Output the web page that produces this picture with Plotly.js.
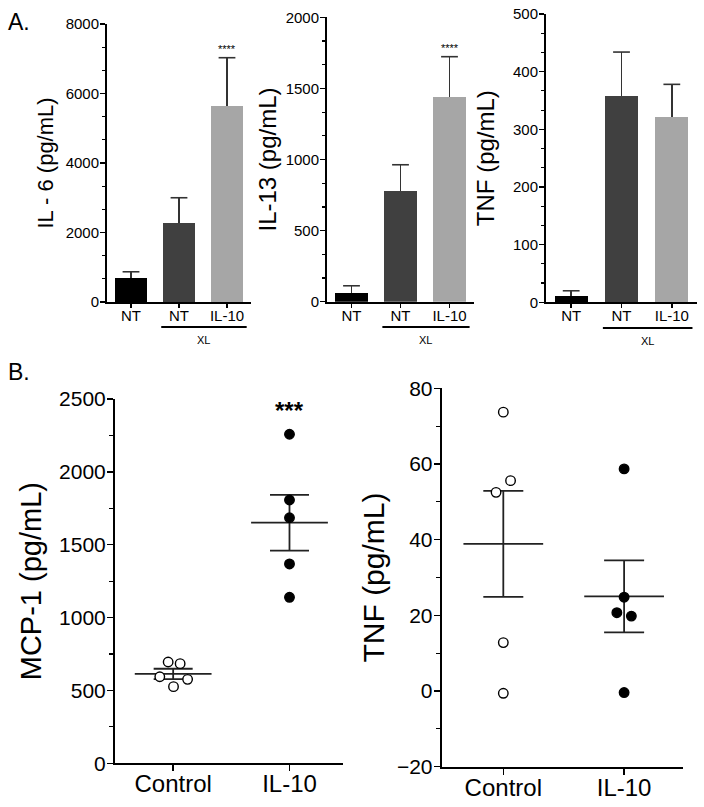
<!DOCTYPE html>
<html>
<head>
<meta charset="utf-8">
<script src="https://cdn.plot.ly/plotly-3.0.1.min.js"></script>
<style>
html,body{margin:0;padding:0;background:#fff;}
#chart{width:704px;height:807px;}
</style>
</head>
<body>
<div id="chart"></div>
<script>
// ---------- Panel A data (bar charts, mean + upper error) ----------
const barTickLabels = ['NT', 'NT', 'IL-10'];
const barColors = ['#000000', '#404040', '#a6a6a6'];
const il6Mean = [680, 2265, 5650];
const il6Err = [190, 735, 1380];
const il13Mean = [59, 780, 1441];
const il13Err = [53, 183, 282];
const tnfAMean = [11, 357, 322];
const tnfAErr = [9, 77, 56];

// ---------- Panel B data (dot plots) ----------
const groupLabels = ['Control', 'IL-10'];
const mcpControl = [695, 684, 594, 576, 526];
const mcpIL10 = [2258, 1807, 1685, 1368, 1139];
const mcpMean = [613, 1651];
const mcpSem = [36, 191];
const tnfControl = [73.7, 55.6, 52.5, 12.8, -0.6];
const tnfIL10 = [58.7, 24.8, 20.7, 19.8, -0.4];
const tnfMean = [38.9, 25.0];
const tnfSem = [14.0, 9.5];

// horizontal scatter offsets of points within a group (layout only)
const mcpControlJitter = [-0.043, 0.06, -0.115, 0.124, 0.003];
const mcpIL10Jitter = [0, 0, 0, 0, 0];
const tnfControlJitter = [0, 0.06, -0.06, 0, 0];
const tnfIL10Jitter = [0, 0, -0.06, 0.06, 0];

const FONT = 'Liberation Sans, Arial, Helvetica, sans-serif';
const catIdx = [0, 1, 2];
const ERRC = '#333333';

function barTrace(means, errs, xa, ya) {
  return {
    type: 'bar', x: catIdx, y: means, xaxis: xa, yaxis: ya,
    width: 0.66,
    marker: {color: barColors, line: {width: 0}},
    error_y: {type: 'data', array: errs, arrayminus: errs.map(() => 0), symmetric: false,
              color: ERRC, thickness: 1.6, width: 0},
    showlegend: false, hoverinfo: 'skip'
  };
}
// cap at the top end of each upward error bar
function capTrace(means, errs, xa, ya) {
  return {
    type: 'scatter', mode: 'markers', x: catIdx, y: means.map((m, i) => m + errs[i]),
    xaxis: xa, yaxis: ya,
    marker: {symbol: 'line-ew', size: 12, line: {color: ERRC, width: 1.6}},
    showlegend: false, hoverinfo: 'skip', cliponaxis: false
  };
}
function dotTrace(vals, base, jit, open, xa, ya) {
  return {
    type: 'scatter', mode: 'markers', x: vals.map((v, i) => base + jit[i]), y: vals,
    xaxis: xa, yaxis: ya,
    marker: {size: 9.5, symbol: 'circle', color: open ? '#ffffff' : '#000000',
             line: {color: '#000000', width: 1.4}},
    showlegend: false, hoverinfo: 'skip', cliponaxis: false
  };
}
function meanTrace(means, sems, xa, ya, cap) {
  return {
    type: 'scatter', mode: 'markers', x: [0, 1], y: means, xaxis: xa, yaxis: ya,
    marker: {size: 1, color: 'rgba(0,0,0,0)'},
    error_x: {type: 'constant', value: 0.33, width: 0, color: '#222222', thickness: 1.8},
    error_y: {type: 'data', array: sems, color: '#222222', thickness: 1.8, width: cap},
    showlegend: false, hoverinfo: 'skip'
  };
}

const data = [
  barTrace(il6Mean, il6Err, 'x', 'y'),
  barTrace(il13Mean, il13Err, 'x2', 'y2'),
  barTrace(tnfAMean, tnfAErr, 'x3', 'y3'),
  capTrace(il6Mean, il6Err, 'x', 'y'),
  capTrace(il13Mean, il13Err, 'x2', 'y2'),
  capTrace(tnfAMean, tnfAErr, 'x3', 'y3'),
  meanTrace(mcpMean, mcpSem, 'x4', 'y4', 19.5),
  dotTrace(mcpControl, 0, mcpControlJitter, true, 'x4', 'y4'),
  dotTrace(mcpIL10, 1, mcpIL10Jitter, false, 'x4', 'y4'),
  meanTrace(tnfMean, tnfSem, 'x5', 'y5', 20),
  dotTrace(tnfControl, 0, tnfControlJitter, true, 'x5', 'y5'),
  dotTrace(tnfIL10, 1, tnfIL10Jitter, false, 'x5', 'y5')
];

const W = 704, H = 807;
const px = v => v / W;
const py = v => 1 - v / H;

function xBar(d0, d1, anchor) {
  return {
    domain: [px(d0), px(d1)], anchor: anchor, range: [-0.5, 2.5],
    tickmode: 'array', tickvals: catIdx, ticktext: barTickLabels,
    ticks: 'outside', ticklen: 4, tickwidth: 1.5, tickcolor: '#000', ticklabelstandoff: -5,
    showline: true, linewidth: 2, linecolor: '#000', showgrid: false, zeroline: false,
    tickfont: {family: FONT, size: 15, color: '#000'}, fixedrange: true
  };
}
function yAx(top, bot, anchor, range, dtick, minor, tsize, title, tfs, standoff, ticklen, lblOff) {
  return {
    domain: [py(bot), py(top)], anchor: anchor, range: range,
    tickmode: 'linear', tick0: range[0], dtick: dtick,
    ticks: 'outside', ticklen: ticklen, tickwidth: 1.5, tickcolor: '#000', ticklabelstandoff: lblOff,
    minor: {tickmode: 'linear', tick0: range[0], dtick: minor, ticks: 'outside', ticklen: ticklen * 0.6, tickwidth: 1.2, tickcolor: '#000'},
    showline: true, linewidth: 2, linecolor: '#000', showgrid: false, zeroline: false,
    tickfont: {family: FONT, size: tsize, color: '#000'},
    title: {text: title, font: {family: FONT, size: tfs, color: '#000'}, standoff: standoff},
    automargin: false, fixedrange: true, separatethousands: false, exponentformat: 'none'
  };
}
function xDot(d0, d1, anchor, range) {
  return {
    domain: [px(d0), px(d1)], anchor: anchor, range: range,
    tickmode: 'array', tickvals: [0, 1], ticktext: groupLabels,
    ticks: 'outside', ticklen: 6, tickwidth: 1.5, tickcolor: '#000', ticklabelstandoff: -8,
    showline: true, linewidth: 2, linecolor: '#000', showgrid: false, zeroline: false,
    tickfont: {family: FONT, size: 24, color: '#000'}, fixedrange: true
  };
}

const layout = {
  width: W, height: H,
  margin: {l: 0, r: 0, t: 0, b: 0},
  paper_bgcolor: '#ffffff', plot_bgcolor: 'rgba(0,0,0,0)',
  font: {family: FONT, color: '#000'},
  showlegend: false,
  bargap: 0,
  xaxis: xBar(107, 251, 'y'),
  yaxis: yAx(24, 302, 'x', [0, 8000], 2000, 2000 / 3, 15, 'IL - 6 (pg/mL)', 22, 6, 5, -2),
  xaxis2: xBar(327, 474, 'y2'),
  yaxis2: yAx(17.3, 301.7, 'x2', [0, 2000], 500, 500 / 3, 15, 'IL-13 (pg/mL)', 24, 2, 5, -2),
  xaxis3: xBar(546, 697, 'y3'),
  yaxis3: yAx(14, 302.3, 'x3', [0, 500], 100, 100 / 3, 15, 'TNF (pg/mL)', 24, 12, 5, -2),
  xaxis4: xDot(115, 343, 'y4', [-0.5, 1.46]),
  yaxis4: yAx(399, 763.3, 'x4', [0, 2500], 500, 250, 21, 'MCP-1 (pg/mL)', 29, 9, 6, -3),
  xaxis5: xDot(441.7, 683.3, 'y5', [-0.51, 1.49]),
  yaxis5: yAx(388.3, 766.7, 'x5', [-20, 80], 20, 10, 21, 'TNF (pg/mL)', 30, 3, 6, -3),
  shapes: [
    {type: 'line', xref: 'x', yref: 'paper', x0: 0.63, x1: 2.41, y0: py(327), y1: py(327), line: {color: '#000', width: 2}},
    {type: 'line', xref: 'x2', yref: 'paper', x0: 0.63, x1: 2.41, y0: py(327), y1: py(327), line: {color: '#000', width: 2}},
    {type: 'line', xref: 'x3', yref: 'paper', x0: 0.63, x1: 2.41, y0: py(328), y1: py(328), line: {color: '#000', width: 2}}
  ],
  annotations: [
    {text: 'A.', xref: 'paper', yref: 'paper', x: px(6), y: py(7), xanchor: 'left', yanchor: 'top', showarrow: false, font: {family: FONT, size: 23, color: '#000'}},
    {text: 'B.', xref: 'paper', yref: 'paper', x: px(6), y: py(357), xanchor: 'left', yanchor: 'top', showarrow: false, font: {family: FONT, size: 23, color: '#000'}},
    {text: 'XL', xref: 'x', yref: 'paper', x: 1.52, y: py(340), xanchor: 'center', yanchor: 'middle', showarrow: false, font: {family: FONT, size: 11, color: '#000'}},
    {text: 'XL', xref: 'x2', yref: 'paper', x: 1.52, y: py(340), xanchor: 'center', yanchor: 'middle', showarrow: false, font: {family: FONT, size: 11, color: '#000'}},
    {text: 'XL', xref: 'x3', yref: 'paper', x: 1.52, y: py(341), xanchor: 'center', yanchor: 'middle', showarrow: false, font: {family: FONT, size: 11, color: '#000'}},
    {text: '****', xref: 'x', yref: 'y', x: 2, y: il6Mean[2] + il6Err[2], xanchor: 'center', yanchor: 'bottom', yshift: 1, showarrow: false, font: {family: FONT, size: 11, color: '#000'}},
    {text: '****', xref: 'x2', yref: 'y2', x: 2, y: il13Mean[2] + il13Err[2], xanchor: 'center', yanchor: 'bottom', yshift: 1, showarrow: false, font: {family: FONT, size: 11, color: '#000'}},
    {text: '<b>***</b>', xref: 'x4', yref: 'y4', x: 1, y: mcpIL10[0], xanchor: 'center', yanchor: 'bottom', yshift: 8, showarrow: false, font: {family: FONT, size: 24, color: '#000'}}
  ]
};

Plotly.newPlot('chart', data, layout, {staticPlot: true, displayModeBar: false});
</script>
</body>
</html>
